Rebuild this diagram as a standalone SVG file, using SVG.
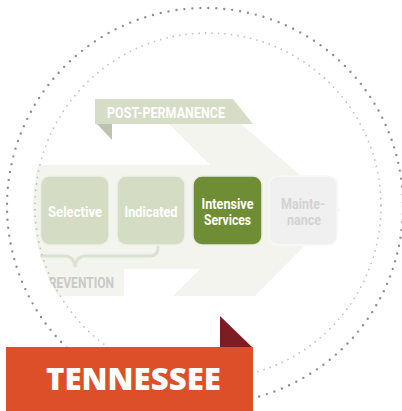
<svg xmlns="http://www.w3.org/2000/svg" width="402" height="411" viewBox="0 0 402 411">
  <defs>
    <clipPath id="innerClip">
      <circle cx="208" cy="206" r="175"/>
    </clipPath>
    <style>
      .cond { font-family: Roboto, "Liberation Sans", sans-serif; font-weight: 700; text-anchor: middle; }
      .box-pale { fill: #d5dcc4; stroke: #eef1e6; stroke-width: 1.5; }
      .lbl { fill: #ffffff; font-size: 14px; }
    </style>
  </defs>
  <rect width="402" height="411" fill="#ffffff"/>

  <!-- faded diagram, clipped to the inner circle -->
  <g id="background-diagram" clip-path="url(#innerClip)">
    <polygon id="big-arrow" points="0,165 210,165 168,123 240,123 340,210 255,296 173,296 200,269 0,269" fill="#f3f4ed"/>
    <rect id="prevention-bg" x="0" y="268" width="124" height="28" fill="#f3f4ed"/>
    <g id="post-permanence">
      <polygon points="95,99 233,99 253,124 95,124" fill="#d6ddc7"/>
      <polygon points="97,124 112,124 112,140" fill="#bcc4ae"/>
      <text class="cond" x="166" y="118" font-size="14" fill="#ffffff" textLength="118" lengthAdjust="spacingAndGlyphs">POST-PERMANENCE</text>
    </g>
    <g id="brace">
      <path d="M 30 248 Q 30 256 40 256 L 64 256 Q 74 256 75 267 Q 76 256 86 256 L 150 256 Q 158 256 158 246" fill="none" stroke="#dce2d0" stroke-width="3" stroke-linecap="round"/>
    </g>
    <text id="prevention" class="cond" x="77.5" y="288" font-size="15" fill="#c9c9c9" textLength="73" lengthAdjust="spacingAndGlyphs">PREVENTION</text>
  </g>

  <g id="node-selective">
    <rect class="box-pale" x="40.5" y="176" width="68.5" height="69" rx="9"/>
    <text class="cond lbl" x="75" y="217" textLength="54" lengthAdjust="spacingAndGlyphs">Selective</text>
  </g>
  <g id="node-indicated">
    <rect class="box-pale" x="117" y="176" width="68" height="69" rx="9"/>
    <text class="cond lbl" x="151" y="217" textLength="53" lengthAdjust="spacingAndGlyphs">Indicated</text>
  </g>
  <g id="node-intensive">
    <rect x="193" y="176" width="69" height="69" rx="9" fill="#6f8d34" stroke="#e9eee0" stroke-width="1.5"/>
    <text class="cond lbl" x="227.5" y="209" textLength="52" lengthAdjust="spacingAndGlyphs">Intensive</text>
    <text class="cond lbl" x="227.5" y="225" textLength="47" lengthAdjust="spacingAndGlyphs">Services</text>
  </g>
  <g id="node-maintenance">
    <rect x="269" y="176" width="68" height="69" rx="9" fill="#f0f0f0" stroke="#f7f7f7" stroke-width="1.5"/>
    <text class="cond" x="303" y="209" font-size="14" fill="#d3d3d3" textLength="44" lengthAdjust="spacingAndGlyphs">Mainte-</text>
    <text class="cond" x="304" y="225" font-size="14" fill="#d3d3d3" textLength="34" lengthAdjust="spacingAndGlyphs">nance</text>
  </g>

  <g id="connectors">
    <circle id="inner-ring" cx="208" cy="206" r="173" fill="none" stroke="#c2c2c2" stroke-width="1.8" stroke-linecap="round" stroke-dasharray="0 6.5"/>
    <circle id="outer-ring" cx="205" cy="206" r="198" fill="none" stroke="#8e8e8e" stroke-width="2.4" stroke-linecap="round" stroke-dasharray="0 8"/>
  </g>

  <g id="banner">
    <polygon points="220,316 252,347 220,347" fill="#7e1c24"/>
    <rect x="6" y="347" width="247" height="64" fill="#dc4f28"/>
    <text x="133.5" y="390" font-family="'Open Sans', Lato, 'DejaVu Sans', sans-serif" font-weight="800" font-size="30" fill="#ffffff" text-anchor="middle" textLength="175" lengthAdjust="spacingAndGlyphs">TENNESSEE</text>
  </g>
</svg>
